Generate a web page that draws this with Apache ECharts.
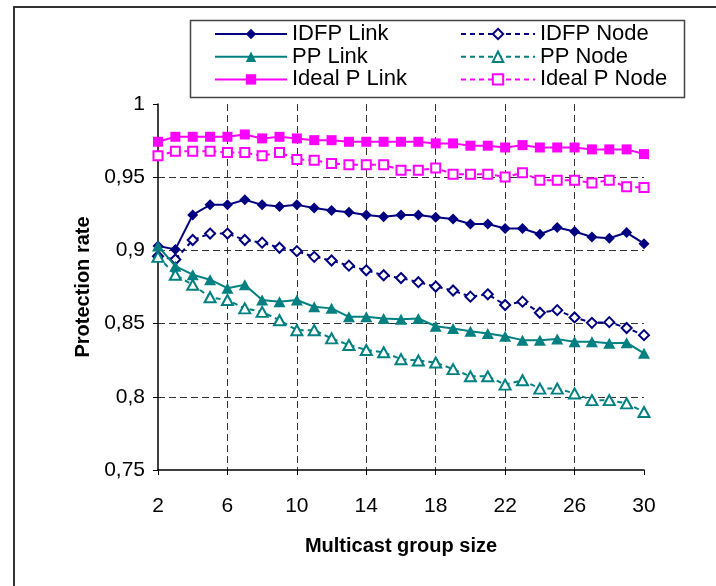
<!DOCTYPE html>
<html>
<head>
<meta charset="utf-8">
<script src="https://cdn.jsdelivr.net/npm/echarts@6/dist/echarts.min.js"></script>
<style>
html,body{margin:0;padding:0;background:#fff;}
#chart{width:716px;height:586px;}
</style>
</head>
<body>
<div id="chart"></div>
<script>
// ---- data ----
var groupSizes = [2,3,4,5,6,7,8,9,10,11,12,13,14,15,16,17,18,19,20,21,22,23,24,25,26,27,28,29,30];

var idfpLink = [0.903,0.9007,0.9242,0.9311,0.9311,0.9346,0.9311,0.930,0.9311,0.929,0.9272,0.926,0.9242,0.923,0.9242,0.9242,0.9226,0.9214,0.918,0.918,0.915,0.915,0.911,0.9157,0.9129,0.9092,0.9083,0.9122,0.9046];
var idfpNode = [0.896,0.8938,0.9071,0.9115,0.9115,0.9071,0.9053,0.9018,0.8995,0.8956,0.8931,0.8896,0.8864,0.883,0.8811,0.8783,0.8753,0.8726,0.8684,0.870,0.8627,0.865,0.8574,0.8592,0.8542,0.8505,0.851,0.847,0.8421];
var ppLink = [0.903,0.8892,0.8834,0.88,0.8742,0.8765,0.8661,0.865,0.8661,0.8615,0.8604,0.8546,0.8546,0.8535,0.853,0.8535,0.8482,0.8466,0.8448,0.8432,0.8414,0.8387,0.8387,0.8394,0.8376,0.8376,0.8365,0.837,0.8297];
var ppNode = [0.8956,0.8834,0.8765,0.868,0.8661,0.8604,0.858,0.8523,0.8455,0.8455,0.8399,0.8354,0.832,0.8304,0.8257,0.8248,0.8234,0.8189,0.814,0.814,0.8083,0.8113,0.8056,0.8056,0.8023,0.7977,0.7977,0.7955,0.7896];
var idealLink = [0.9742,0.9776,0.9776,0.9776,0.9776,0.9792,0.9765,0.9776,0.9765,0.9753,0.9753,0.9742,0.9742,0.9742,0.9742,0.9742,0.9731,0.9731,0.9715,0.9715,0.9703,0.9719,0.9703,0.9703,0.9703,0.969,0.969,0.969,0.9658];
var idealNode = [0.9646,0.9678,0.9678,0.9678,0.9669,0.9669,0.9646,0.9669,0.9621,0.9616,0.9594,0.9585,0.9585,0.9585,0.9548,0.9548,0.9562,0.9521,0.9521,0.9521,0.9502,0.953,0.9479,0.9479,0.9479,0.9461,0.9479,0.9434,0.943];

var yMin = 0.75, yMax = 1, yStep = 0.05;
var xTitle = 'Multicast group size';
var yTitle = 'Protection rate';

var NAVY = '#000080', TEAL = '#008080', PINK = '#FF00FF';
var FONT = '"Liberation Sans", Arial, sans-serif';

function linkSeries(name, data, color, symbol, size) {
  return {
    name: name, type: 'line', data: data, z: 5,
    symbol: symbol, symbolSize: size, showSymbol: true,
    lineStyle: {color: color, width: 2, type: 'solid'},
    itemStyle: {color: color},
    emphasis: {disabled: true}, animation: false
  };
}
function nodeSeries(name, data, color, symbol, size) {
  return {
    name: name, type: 'line', data: data, z: 3,
    symbol: symbol, symbolSize: size, showSymbol: true,
    lineStyle: {color: color, width: 2, type: [5, 4]},
    itemStyle: {color: color, borderColor: color, borderWidth: 2},
    emphasis: {disabled: true}, animation: false
  };
}

var chart = echarts.init(document.getElementById('chart'), null, {renderer: 'canvas'});
var legendText = {fontFamily: FONT, fontSize: 22, color: '#000', lineHeight: 22};
chart.setOption({
  backgroundColor: '#fff',
  animation: false,
  textStyle: {fontFamily: FONT},
  grid: {left: 158, right: 72, top: 104, bottom: 116, containLabel: false},
  legend: [
    {data: ['IDFP Link', 'PP Link', 'Ideal P Link'], orient: 'vertical', left: 214, top: 23,
     padding: 0, itemGap: 0.7, itemWidth: 72, itemHeight: 13, textStyle: legendText,
     selectedMode: false},
    {data: ['IDFP Node', 'PP Node', 'Ideal P Node'], orient: 'vertical', left: 460, top: 23,
     padding: 0, itemGap: 0.7, itemWidth: 74, itemHeight: 13, textStyle: legendText,
     selectedMode: false}
  ],
  xAxis: {
    type: 'category', data: groupSizes, boundaryGap: false,
    name: xTitle, nameLocation: 'middle', nameGap: 66,
    nameTextStyle: {fontFamily: FONT, fontSize: 20, fontWeight: 'bold', color: '#000'},
    axisLine: {lineStyle: {color: '#000', width: 1.5}},
    axisTick: {interval: 3, length: 5, lineStyle: {color: '#000', width: 1}},
    axisLabel: {interval: 3, margin: 26, fontFamily: FONT, fontSize: 21, color: '#000'},
    splitLine: {show: true, interval: function (i) { return i % 4 === 0 && i !== 0 && i !== 28; },
                lineStyle: {color: '#333', width: 1, type: [7, 4]}}
  },
  yAxis: {
    type: 'value', min: yMin, max: yMax, interval: yStep,
    name: yTitle, nameLocation: 'middle', nameGap: 59, nameRotate: 90,
    nameTextStyle: {fontFamily: FONT, fontSize: 20, fontWeight: 'bold', color: '#000'},
    axisLine: {show: true, lineStyle: {color: '#000', width: 1.5}},
    axisTick: {show: true, length: 5, lineStyle: {color: '#000', width: 1}},
    axisLabel: {margin: 13, fontFamily: FONT, fontSize: 21, color: '#000',
      formatter: function (v) { return String(Math.round(v * 100) / 100).replace('.', ','); }},
    splitLine: {show: true, showMinLine: false, showMaxLine: false,
                lineStyle: {color: '#333', width: 1, type: [7, 4]}}
  },
  graphic: [
    {type: 'rect', shape: {x: 14, y: 7, width: 900, height: 800}, silent: true, z: -10,
     style: {fill: 'none', stroke: '#333', lineWidth: 2}},
    {type: 'rect', shape: {x: 190.5, y: 20.5, width: 494, height: 77}, silent: true, z: -5,
     style: {fill: '#fff', stroke: '#444', lineWidth: 1.5}}
  ],
  series: [
    nodeSeries('IDFP Node', idfpNode, NAVY, 'emptyDiamond', 10),
    nodeSeries('PP Node', ppNode, TEAL, 'emptyTriangle', [11, 10]),
    nodeSeries('Ideal P Node', idealNode, PINK, 'emptyRect', 9),
    linkSeries('IDFP Link', idfpLink, NAVY, 'diamond', 11),
    linkSeries('Ideal P Link', idealLink, PINK, 'rect', 10),
    linkSeries('PP Link', ppLink, TEAL, 'triangle', [12, 11])
  ]
});
</script>
</body>
</html>
